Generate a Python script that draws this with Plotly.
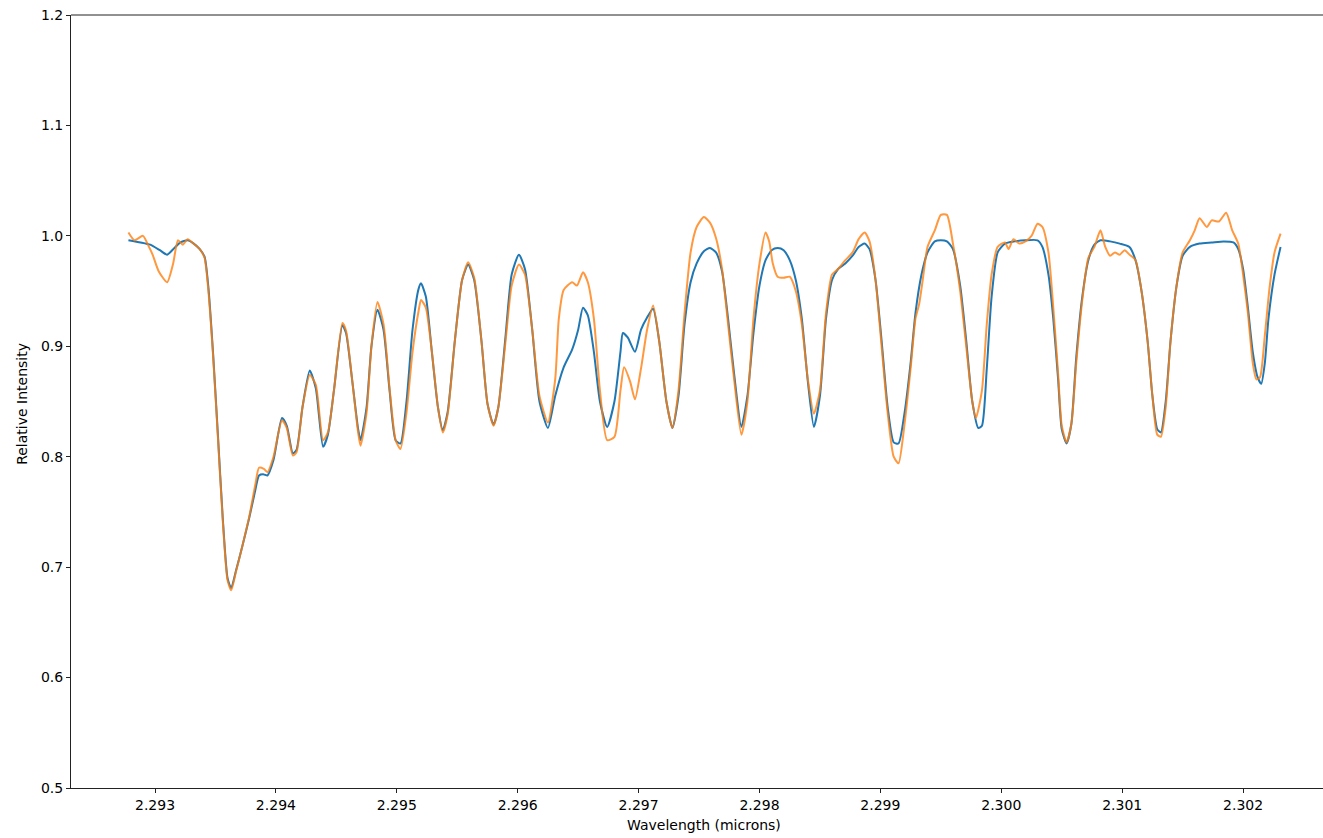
import plotly.graph_objects as go

# ---- data ----
blue_wavelength = [
    2.29278, 2.29288, 2.29296, 2.29304, 2.29310, 2.29316, 2.29321, 2.29327, 2.29332, 2.29337,
    2.29341, 2.29344, 2.29348, 2.29352, 2.29356, 2.29360, 2.29363, 2.29367, 2.29372, 2.29378,
    2.29383, 2.29386, 2.29390, 2.29393, 2.29398, 2.29405, 2.29409, 2.29414, 2.29417, 2.29422,
    2.29428, 2.29433, 2.29439, 2.29443, 2.29448, 2.29455, 2.29458, 2.29463, 2.29468, 2.29470,
    2.29475, 2.29479, 2.29484, 2.29489, 2.29494, 2.29499, 2.29503, 2.29508, 2.29513, 2.29518,
    2.29520, 2.29524, 2.29529, 2.29534, 2.29538, 2.29542, 2.29548, 2.29554, 2.29559, 2.29564,
    2.29570, 2.29575, 2.29580, 2.29584, 2.29590, 2.29595, 2.29601, 2.29606, 2.29612, 2.29618,
    2.29625, 2.29631, 2.29638, 2.29645, 2.29650, 2.29654, 2.29658, 2.29663, 2.29668, 2.29674,
    2.29680, 2.29685, 2.29687, 2.29691, 2.29697, 2.29702, 2.29707, 2.29712, 2.29717, 2.29723,
    2.29728, 2.29733, 2.29738, 2.29743, 2.29748, 2.29754, 2.29759, 2.29764, 2.29769, 2.29774,
    2.29779, 2.29785, 2.29790, 2.29795, 2.29800, 2.29805, 2.29810, 2.29815, 2.29820, 2.29825,
    2.29830, 2.29835, 2.29840, 2.29845, 2.29850, 2.29855, 2.29860, 2.29865, 2.29871, 2.29877,
    2.29882, 2.29887, 2.29891, 2.29896, 2.29901, 2.29906, 2.29911, 2.29915, 2.29920, 2.29925,
    2.29929, 2.29934, 2.29939, 2.29945, 2.29950, 2.29955, 2.29960, 2.29966, 2.29971, 2.29976,
    2.29981, 2.29984, 2.29988, 2.29992, 2.29997, 2.30003, 2.30011, 2.30020, 2.30030, 2.30034,
    2.30039, 2.30043, 2.30047, 2.30050, 2.30054, 2.30058, 2.30062, 2.30067, 2.30072, 2.30077,
    2.30082, 2.30090, 2.30098, 2.30106, 2.30111, 2.30116, 2.30121, 2.30125, 2.30129, 2.30132,
    2.30136, 2.30140, 2.30145, 2.30150, 2.30156, 2.30164, 2.30174, 2.30184, 2.30192, 2.30196,
    2.30200, 2.30204, 2.30208, 2.30212, 2.30215, 2.30218, 2.30221, 2.30226, 2.30231,
]
blue_intensity = [
    0.996, 0.994, 0.992, 0.987, 0.983, 0.989, 0.994, 0.996, 0.993, 0.988,
    0.981, 0.955, 0.894, 0.820, 0.745, 0.690, 0.681, 0.697, 0.718, 0.745,
    0.770, 0.783, 0.784, 0.783, 0.797, 0.835, 0.828, 0.803, 0.806, 0.845,
    0.878, 0.862, 0.809, 0.820, 0.860, 0.919, 0.912, 0.870, 0.825, 0.815,
    0.845, 0.900, 0.933, 0.915, 0.860, 0.815, 0.812, 0.850, 0.915, 0.952,
    0.957, 0.945, 0.895, 0.845, 0.824, 0.840, 0.905, 0.960, 0.974, 0.960,
    0.905, 0.848, 0.829, 0.845, 0.910, 0.965, 0.983, 0.970, 0.915, 0.850,
    0.826, 0.855, 0.881, 0.897, 0.915, 0.935, 0.928, 0.895, 0.850, 0.827,
    0.850, 0.895, 0.912, 0.908, 0.895, 0.915, 0.926, 0.934, 0.905, 0.850,
    0.826, 0.855, 0.920, 0.958, 0.975, 0.986, 0.989, 0.985, 0.968, 0.925,
    0.875, 0.827, 0.855, 0.912, 0.955, 0.978, 0.987, 0.989, 0.987, 0.978,
    0.960, 0.925, 0.868, 0.827, 0.855, 0.925, 0.960, 0.970, 0.975, 0.982,
    0.990, 0.993, 0.988, 0.960, 0.905, 0.845, 0.813, 0.812, 0.840, 0.885,
    0.930, 0.965, 0.985, 0.995, 0.996, 0.995, 0.988, 0.955, 0.905, 0.850,
    0.826, 0.828, 0.880, 0.945, 0.985, 0.993, 0.995, 0.996, 0.996, 0.990,
    0.965, 0.925, 0.870, 0.825, 0.812, 0.830, 0.890, 0.945, 0.978, 0.992,
    0.996, 0.995, 0.993, 0.990, 0.978, 0.950, 0.905, 0.855, 0.825, 0.822,
    0.850, 0.905, 0.955, 0.982, 0.990, 0.993, 0.994, 0.995, 0.994, 0.988,
    0.970, 0.935, 0.895, 0.872, 0.866, 0.885, 0.925, 0.965, 0.990,
]

orange_wavelength = [
    2.29278, 2.29283, 2.29290, 2.29295, 2.29298, 2.29303, 2.29310, 2.29315, 2.29319, 2.29323,
    2.29327, 2.29333, 2.29337, 2.29341, 2.29344, 2.29348, 2.29352, 2.29356, 2.29360, 2.29363,
    2.29367, 2.29372, 2.29378, 2.29383, 2.29386, 2.29390, 2.29393, 2.29398, 2.29405, 2.29409,
    2.29414, 2.29417, 2.29422, 2.29428, 2.29433, 2.29439, 2.29443, 2.29448, 2.29455, 2.29458,
    2.29463, 2.29468, 2.29470, 2.29475, 2.29479, 2.29484, 2.29489, 2.29494, 2.29499, 2.29503,
    2.29508, 2.29513, 2.29518, 2.29520, 2.29524, 2.29529, 2.29534, 2.29538, 2.29542, 2.29548,
    2.29554, 2.29559, 2.29564, 2.29570, 2.29575, 2.29580, 2.29584, 2.29590, 2.29595, 2.29601,
    2.29606, 2.29612, 2.29618, 2.29625, 2.29631, 2.29634, 2.29638, 2.29645, 2.29649, 2.29654,
    2.29658, 2.29663, 2.29668, 2.29674, 2.29680, 2.29685, 2.29688, 2.29693, 2.29697, 2.29702,
    2.29707, 2.29712, 2.29717, 2.29723, 2.29728, 2.29733, 2.29738, 2.29743, 2.29748, 2.29754,
    2.29759, 2.29764, 2.29769, 2.29774, 2.29779, 2.29785, 2.29790, 2.29795, 2.29800, 2.29805,
    2.29808, 2.29811, 2.29815, 2.29820, 2.29825, 2.29830, 2.29835, 2.29840, 2.29845, 2.29850,
    2.29855, 2.29860, 2.29865, 2.29871, 2.29877, 2.29882, 2.29887, 2.29891, 2.29896, 2.29901,
    2.29906, 2.29911, 2.29915, 2.29920, 2.29925, 2.29929, 2.29932, 2.29935, 2.29939, 2.29945,
    2.29950, 2.29955, 2.29960, 2.29966, 2.29971, 2.29976, 2.29979, 2.29984, 2.29988, 2.29992,
    2.29997, 2.30003, 2.30006, 2.30010, 2.30015, 2.30020, 2.30025, 2.30030, 2.30034, 2.30039,
    2.30043, 2.30047, 2.30050, 2.30054, 2.30058, 2.30062, 2.30067, 2.30072, 2.30077, 2.30082,
    2.30086, 2.30090, 2.30094, 2.30098, 2.30102, 2.30106, 2.30111, 2.30116, 2.30121, 2.30125,
    2.30129, 2.30132, 2.30136, 2.30140, 2.30145, 2.30150, 2.30156, 2.30160, 2.30164, 2.30170,
    2.30174, 2.30180, 2.30186, 2.30191, 2.30196, 2.30200, 2.30204, 2.30208, 2.30211, 2.30214,
    2.30218, 2.30222, 2.30226, 2.30231,
]
orange_intensity = [
    1.003, 0.996, 1.000, 0.990, 0.983, 0.968, 0.958, 0.975, 0.996, 0.992,
    0.997, 0.992, 0.988, 0.980, 0.952, 0.892, 0.818, 0.743, 0.688, 0.679,
    0.696, 0.718, 0.746, 0.775, 0.790, 0.789, 0.786, 0.800, 0.833, 0.826,
    0.801, 0.804, 0.845, 0.874, 0.865, 0.815, 0.822, 0.860, 0.921, 0.914,
    0.870, 0.822, 0.810, 0.840, 0.900, 0.940, 0.920, 0.862, 0.815, 0.807,
    0.840, 0.895, 0.932, 0.942, 0.935, 0.895, 0.845, 0.822, 0.838, 0.905,
    0.960, 0.976, 0.962, 0.905, 0.848, 0.828, 0.845, 0.905, 0.955, 0.974,
    0.965, 0.915, 0.855, 0.831, 0.870, 0.925, 0.951, 0.958, 0.955, 0.967,
    0.958, 0.925, 0.860, 0.815, 0.818, 0.860, 0.881, 0.868, 0.852, 0.880,
    0.915, 0.937, 0.905, 0.850, 0.826, 0.860, 0.930, 0.985, 1.008, 1.017,
    1.012, 0.998, 0.970, 0.920, 0.870, 0.820, 0.850, 0.925, 0.975, 1.003,
    0.995, 0.975, 0.963, 0.962, 0.963, 0.950, 0.920, 0.870, 0.839, 0.860,
    0.930, 0.965, 0.970, 0.978, 0.985, 0.997, 1.003, 0.995, 0.960, 0.900,
    0.840, 0.800, 0.794, 0.830, 0.880, 0.925, 0.938, 0.960, 0.990, 1.005,
    1.019, 1.019, 0.993, 0.950, 0.900, 0.850, 0.835, 0.860, 0.920, 0.965,
    0.990, 0.994, 0.988, 0.997, 0.993, 0.995, 1.000, 1.011, 1.008, 0.985,
    0.935, 0.875, 0.828, 0.813, 0.830, 0.885, 0.942, 0.980, 0.990, 1.005,
    0.990, 0.982, 0.985, 0.983, 0.987, 0.983, 0.978, 0.950, 0.905, 0.855,
    0.820, 0.818, 0.845, 0.905, 0.955, 0.985, 0.996, 1.005, 1.016, 1.008,
    1.014, 1.013, 1.021, 1.005, 0.993, 0.965, 0.930, 0.885, 0.870, 0.872,
    0.910, 0.954, 0.985, 1.002,
]

x_ticks = [2.293, 2.294, 2.295, 2.296, 2.297, 2.298, 2.299, 2.300, 2.301, 2.302]
y_ticks = [0.5, 0.6, 0.7, 0.8, 0.9, 1.0, 1.1, 1.2]

FONT = "DejaVu Sans"

fig = go.Figure()
fig.add_trace(go.Scatter(
    x=blue_wavelength, y=blue_intensity, mode="lines",
    line=dict(color="#1f77b4", width=2, shape="spline", smoothing=0.6),
    showlegend=False, hoverinfo="skip",
))
fig.add_trace(go.Scatter(
    x=orange_wavelength, y=orange_intensity, mode="lines",
    line=dict(color="#ff7f0e", width=2, shape="spline", smoothing=0.6),
    opacity=0.8, showlegend=False, hoverinfo="skip",
))

fig.update_layout(
    width=1323, height=838,
    margin=dict(l=71, r=0, t=15, b=50),
    paper_bgcolor="white", plot_bgcolor="white",
    font=dict(family=FONT, size=14, color="black"),
    xaxis=dict(
        range=[2.292305, 2.302661], tickvals=x_ticks, tickformat=".3f",
        showgrid=False, zeroline=False, showline=True, linecolor="#222", linewidth=1,
        ticks="outside", ticklen=4, tickcolor="#222", tickfont=dict(size=14),
        ticklabeloverflow="allow",
    ),
    yaxis=dict(
        range=[0.5, 1.2], tickvals=y_ticks, tickformat=".1f",
        showgrid=False, zeroline=False, showline=True, linecolor="#222", linewidth=1,
        ticks="outside", ticklen=4, tickcolor="#222", tickfont=dict(size=14),
        ticklabeloverflow="allow",
    ),
    shapes=[dict(type="line", xref="paper", yref="paper", x0=0, x1=1, y0=1, y1=1,
                 line=dict(color="#222", width=1))],
    annotations=[
        dict(text="Wavelength (microns)", xref="paper", yref="paper",
             x=0.5056, y=-0.048, xanchor="center", yanchor="middle",
             showarrow=False, font=dict(size=14)),
        dict(text="Relative Intensity", xref="paper", yref="paper",
             x=-0.0391, y=0.497, xanchor="center", yanchor="middle",
             textangle=-90, showarrow=False, font=dict(size=14)),
    ],
)

# remove the page's default body margin so the figure sits at the top-left corner
fig.write_html(
    "out.html",
    config={"displayModeBar": False},
    post_script="document.body.style.margin='0';document.body.style.overflow='hidden';",
)
